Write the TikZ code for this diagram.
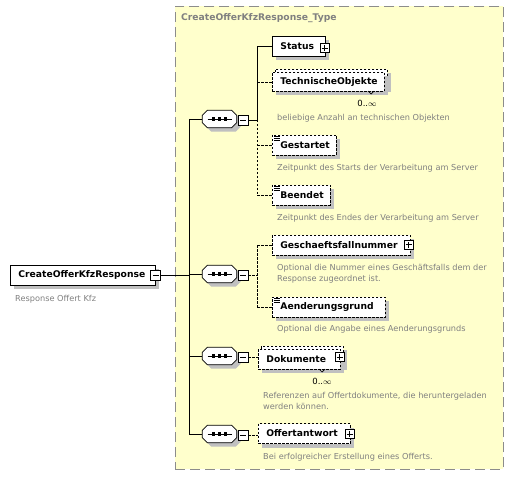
\documentclass[tikz,border=0pt]{standalone}
\usepackage{fontspec}
\setmainfont{DejaVu Sans}
\usetikzlibrary{shadows}
\definecolor{bgyellow}{HTML}{FFFFCC}
\definecolor{bordergray}{HTML}{8C8C8C}
\definecolor{shadowgray}{HTML}{C0C0C0}
\definecolor{commentgray}{HTML}{808080}
\begin{document}
\begin{tikzpicture}[x=1pt,y=-1pt,
  shadowed/.style={drop shadow={shadow xshift=4pt,shadow yshift=-4pt,fill=shadowgray,opacity=1}},
  elem/.style={draw=black,line width=0.8pt,fill=white,anchor=west,minimum height=20pt,
    inner xsep=8pt,inner ysep=0pt,text width=#1,align=left,
    font=\bfseries\fontsize{9.2}{11}\selectfont,shadowed},
  optelem/.style={elem=#1,dash pattern=on 2.5pt off 1.5pt},
  backbox/.style={draw=black,line width=0.8pt,fill=white,anchor=west,inner sep=0pt,
    dash pattern=on 2.5pt off 1.5pt,shadowed},
  plusicon/.style={draw=black,fill=white,line width=0.8pt,minimum size=9pt,inner sep=0pt,
    path picture={\draw[line width=0.8pt]
      ([xshift=-3pt]path picture bounding box.center) -- ([xshift=3pt]path picture bounding box.center)
      ([yshift=-3pt]path picture bounding box.center) -- ([yshift=3pt]path picture bounding box.center);}},
  minusicon/.style={draw=black,fill=white,line width=0.8pt,minimum size=10pt,inner sep=0pt,
    path picture={\draw[line width=0.8pt]
      ([xshift=-3pt]path picture bounding box.center) -- ([xshift=3pt]path picture bounding box.center);}},
  seqnode/.style={rectangle,draw=none,minimum width=34pt,minimum height=17pt,inner sep=0pt},
  octshadow/.style={fill=shadowgray},
  octbody/.style={draw=black,fill=white,line width=0.8pt},
  comment/.style={anchor=west,inner sep=0pt,text=commentgray,align=left,
    font=\fontsize{8.2}{11}\selectfont},
  mult/.style={inner sep=0pt,font=\fontsize{8.5}{10}\selectfont},
  conn/.style={line width=0.8pt,black},
  optconn/.style={conn,dash pattern=on 2.5pt off 1.5pt},
  stype/.style={line width=0.7pt,black}
]
\useasboundingbox (0,0) rectangle (513,478);
% background
\node[draw=bordergray,fill=bgyellow,line width=0.8pt,dash pattern=on 10pt off 5pt,
  minimum width=328pt,minimum height=463pt,anchor=north west,inner sep=0pt] (typebox) at (175,6) {};
\node[anchor=west,inner sep=0pt,text=commentgray,font=\bfseries\fontsize{9.2}{11}\selectfont] (title) at (181,18) {CreateOfferKfzResponse\_Type};

% root
\node[elem=129pt] (root) at (10,275) {CreateOfferKfzResponse};
\node[minusicon] (rootminus) at (155.5,275) {};
\node[comment] (rootc) at (15,299) {Response Offert Kfz};

% sequences
\node[seqnode] (seq1) at (219.5,119) {};
\node[seqnode] (seq2) at (219.5,274) {};
\node[seqnode] (seq3) at (219.5,356) {};
\node[seqnode] (seq4) at (219.5,434) {};
\foreach \s in {seq1,seq2,seq3,seq4}{
  \foreach \dx/\dy/\st in {4/-4/octshadow,0/0/octbody}{
    \path[\st] ([xshift=\dx pt+5pt,yshift=\dy pt]\s.north west)
      -- ([xshift=\dx pt-5pt,yshift=\dy pt]\s.north east)
      -- ([xshift=\dx pt,yshift=\dy pt-5pt]\s.north east)
      -- ([xshift=\dx pt,yshift=\dy pt+5pt]\s.south east)
      -- ([xshift=\dx pt-5pt,yshift=\dy pt]\s.south east)
      -- ([xshift=\dx pt+5pt,yshift=\dy pt]\s.south west)
      -- ([xshift=\dx pt,yshift=\dy pt+5pt]\s.south west)
      -- ([xshift=\dx pt,yshift=\dy pt-5pt]\s.north west) -- cycle;
  }
  \draw[line width=0.8pt] ([xshift=-12pt]\s.center) -- ([xshift=12pt]\s.center);
  \foreach \px in {-6,0,6}{
    \fill ([xshift=\px pt-1.6pt,yshift=-1.6pt]\s.center) rectangle ([xshift=\px pt+1.6pt,yshift=1.6pt]\s.center);
  }
}
\node[minusicon] (seq1m) at (243,120) {};
\node[minusicon] (seq2m) at (243,275) {};
\node[minusicon] (seq3m) at (243,357) {};
\node[minusicon] (seq4m) at (243,435) {};

% elements of sequence 1
\node[elem=37pt] (status) at (272,46.5) {Status};
\node[plusicon] (statusp) at (324.5,48) {};

\node[backbox,minimum width=112pt,minimum height=19pt] (techback) at (275,79) {};
\node[optelem=96pt,minimum height=19pt,drop shadow={opacity=0}] (techobj) at (272,82) {TechnischeObjekte};
\draw[stype] (368,91) -- (371,94) -- (374,91);
\node[mult] (techmult) at (367,103) {0..$\infty$};
\node[comment] (techc) at (277,118) {beliebige Anzahl an technischen Objekten};

\node[optelem=48pt] (gestartet) at (272,145) {Gestartet};
\node[comment] (gestartetc) at (277,168) {Zeitpunkt des Starts der Verarbeitung am Server};

\node[optelem=42pt] (beendet) at (272,195) {Beendet};
\node[comment] (beendetc) at (277,218) {Zeitpunkt des Endes der Verarbeitung am Server};

% elements of sequence 2
\node[optelem=122pt] (gfn) at (272,245) {Geschaeftsfallnummer};
\node[plusicon] (gfnp) at (408.5,244.5) {};
\node[comment] (gfnc) at (277,273.5) {Optional die Nummer eines Geschäftsfalls dem der\\Response zugeordnet ist.};

\node[optelem=97pt] (aend) at (272,307) {Aenderungsgrund};
\node[comment] (aendc) at (277,329) {Optional die Angabe eines Aenderungsgrunds};

% sequence 3
\node[backbox,minimum width=82pt,minimum height=20pt] (dokback) at (261,356) {};
\node[optelem=66pt,drop shadow={opacity=0}] (doku) at (258,359) {Dokumente};
\node[plusicon] (dokup) at (339.5,357) {};
\draw[stype] (319,369) -- (322,372) -- (325,369);
\node[mult] (dokumult) at (322,381) {0..$\infty$};
\node[comment] (dokuc) at (263,400.5) {Referenzen auf Offertdokumente, die heruntergeladen\\werden können.};

% sequence 4
\node[optelem=76pt] (offert) at (258,433.5) {Offertantwort};
\node[plusicon] (offertp) at (349.5,434) {};
\node[comment] (offertc) at (263,457) {Bei erfolgreicher Erstellung eines Offerts.};

% simple type marks
\foreach \n in {gestartet,beendet,aend}{
  \draw[stype] ([xshift=2pt,yshift=-1.5pt]\n.north west) -- ++(6,0)
               ([xshift=2pt,yshift=-3.5pt]\n.north west) -- ++(6,0)
               ([xshift=2pt,yshift=-5.5pt]\n.north west) -- ++(6,0);
}

% connectors
\coordinate (spine) at (189,0);
\coordinate (bus) at (257,0);
\draw[conn] (rootminus.east) -- (rootminus.east -| spine);
\draw[conn] (seq1.west -| spine) -- (seq4.west -| spine);
\foreach \s in {seq1,seq2,seq3,seq4}{\draw[conn] (\s.west -| spine) -- (\s.west);}
% seq1
\draw[conn] (seq1m.east) -- (seq1m.east -| bus);
\draw[conn] (status.west -| bus) -- (seq1m.east -| bus);
\draw[optconn] (seq1m.east -| bus) -- (beendet.west -| bus);
\draw[conn] (status.west -| bus) -- (status.west);
\draw[optconn] (techobj.west -| bus) -- (techobj.west);
\draw[optconn] (gestartet.west -| bus) -- (gestartet.west);
\draw[optconn] (beendet.west -| bus) -- (beendet.west);
% seq2
\draw[optconn] (seq2m.east) -- (seq2m.east -| bus);
\draw[optconn] (gfn.west -| bus) -- (aend.west -| bus);
\draw[optconn] (gfn.west -| bus) -- (gfn.west);
\draw[optconn] (aend.west -| bus) -- (aend.west);
% seq3, seq4
\draw[optconn] (seq3m.east) -- (seq3m.east -| doku.west);
\draw[optconn] (seq4m.east) -- (seq4m.east -| offert.west);
\end{tikzpicture}
\end{document}
